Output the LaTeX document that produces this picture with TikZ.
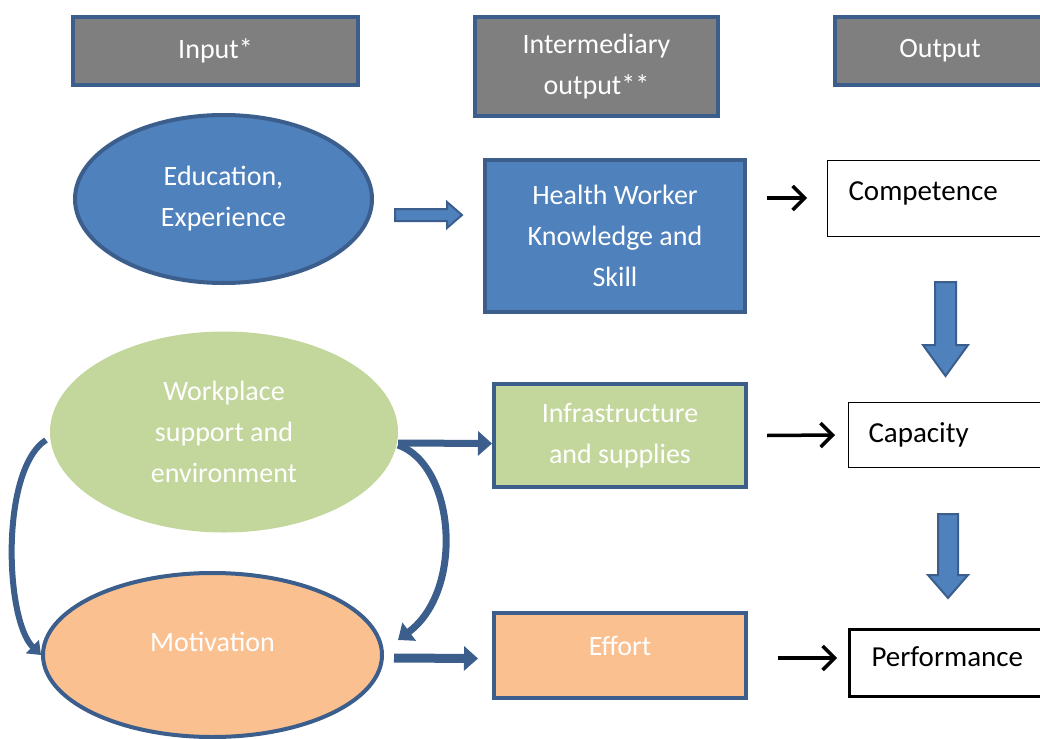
\documentclass[tikz,border=0pt]{standalone}
\usepackage{fontspec}
\setmainfont{Carlito}
\usetikzlibrary{shapes.geometric,arrows.meta,calc}
\definecolor{bordblue}{HTML}{3B5E8C}
\definecolor{fillblue}{HTML}{4F81BD}
\definecolor{fillgreen}{HTML}{C3D69B}
\definecolor{fillorange}{HTML}{FAC090}
\definecolor{headgray}{HTML}{7F7F7F}

\begin{document}
\begin{tikzpicture}[x=1pt,y=-1pt,
    txt/.style={font=\fontsize{28}{41}\selectfont, align=center, text=white},
    head/.style={txt, draw=bordblue, fill=headgray, line width=4pt, inner sep=0pt},
    shp/.style={txt, draw=bordblue, line width=4pt, inner sep=0pt},
    outbox/.style={draw=black, font=\fontsize{29}{36}\selectfont, align=left,
      text width=180pt, inner xsep=21pt, inner ysep=0pt, anchor=north west},
    blockarr/.style={draw=bordblue, fill=fillblue, line width=2pt},
    blk/.style={-{Straight Barb[length=12pt,width=24pt,line width=3.5pt]}, line width=3.5pt},
    thick arr/.style={bordblue, -{Triangle[length=14pt,width=24pt]}}]
  \useasboundingbox (0,0) rectangle (1040,738);
  % column heads
  \draw
    (215.5,51) node[head, minimum width=285, minimum height=68] (in) {Input*}
    (596.5,66.5) node[head, minimum width=243, minimum height=99] (mid) {Intermediary\\output**}
    (940,51) node[head, minimum width=210, minimum height=68] (out) {Output};
  % inputs
  \draw
    (223.5,199) node[shp, ellipse, fill=fillblue, minimum width=297, minimum height=168] (edu) {Education,\\Experience}
    (224,432) node[txt, ellipse, fill=fillgreen, inner sep=0pt, minimum width=348, minimum height=201] (wp) {Workplace\\support and\\environment}
    (212.5,655) node[shp, ellipse, fill=fillorange, minimum width=339, minimum height=164,
      text height=20pt, text depth=28pt] (mot) {Motivation};
  % intermediary outputs
  \draw
    (615,236) node[shp, fill=fillblue, minimum width=260, minimum height=152] (hw) {Health Worker\\Knowledge and\\Skill}
    (620,435.5) node[shp, fill=fillgreen, minimum width=252, minimum height=103] (infra) {Infrastructure\\and supplies}
    (620,655.5) node[shp, fill=fillorange, minimum width=252, minimum height=85,
      text height=20pt, text depth=20pt] (effort) {Effort};
  % outputs
  \draw
    (827,160) node[outbox, line width=1pt, minimum height=76, text height=20pt, text depth=16pt] (comp) {Competence}
    (848,402) node[outbox, line width=1pt, minimum height=65, inner xsep=20pt] (cap) {Capacity}
    (848,628) node[outbox, line width=3pt, minimum height=67, inner xsep=22pt,
      text height=20pt, text depth=14pt] (perf) {Performance};
  % block arrows
  \draw[blockarr] (395,209) -- (447,209) -- (447,202) -- (462,215) -- (447,228)
    -- (447,221) -- (395,221) -- cycle;
  \draw[blockarr] (935,282) -- (956,282) -- (956,345) -- (968,345) -- (945.5,376)
    -- (923,345) -- (935,345) -- cycle;
  \draw[blockarr] (938,514) -- (958,514) -- (958,575) -- (968,575) -- (948,598)
    -- (928,575) -- (938,575) -- cycle;
  % arrows to outputs
  \begin{scope}[blk]
    \draw ([xshift=20]hw.east |- 0,198) -- (807,198);
    \draw ([xshift=19]infra.east) -- ([xshift=-13]cap.west);
    \draw ([xshift=30]effort.east |- 0,658) -- ([xshift=-11]perf.west |- 0,658);
  \end{scope}
  % blue arrows
  \draw[thick arr, line width=7pt] ([yshift=-11]wp.east) -- ([yshift=-8]infra.west);
  \draw[thick arr, line width=9pt] ([xshift=10,yshift=-3]mot.east) -- ([xshift=-14,yshift=-3]effort.west);
  \draw[thick arr, line width=6pt, -{Triangle[length=12pt,width=18pt]}]
    (46,440) .. controls (0,470) and (5,620) .. (mot.west);
  \draw[thick arr, line width=7pt, -{Triangle[length=14pt,width=22pt]}]
    (398,445) .. controls (455,465) and (465,590) .. (398,640);
\end{tikzpicture}
\end{document}
